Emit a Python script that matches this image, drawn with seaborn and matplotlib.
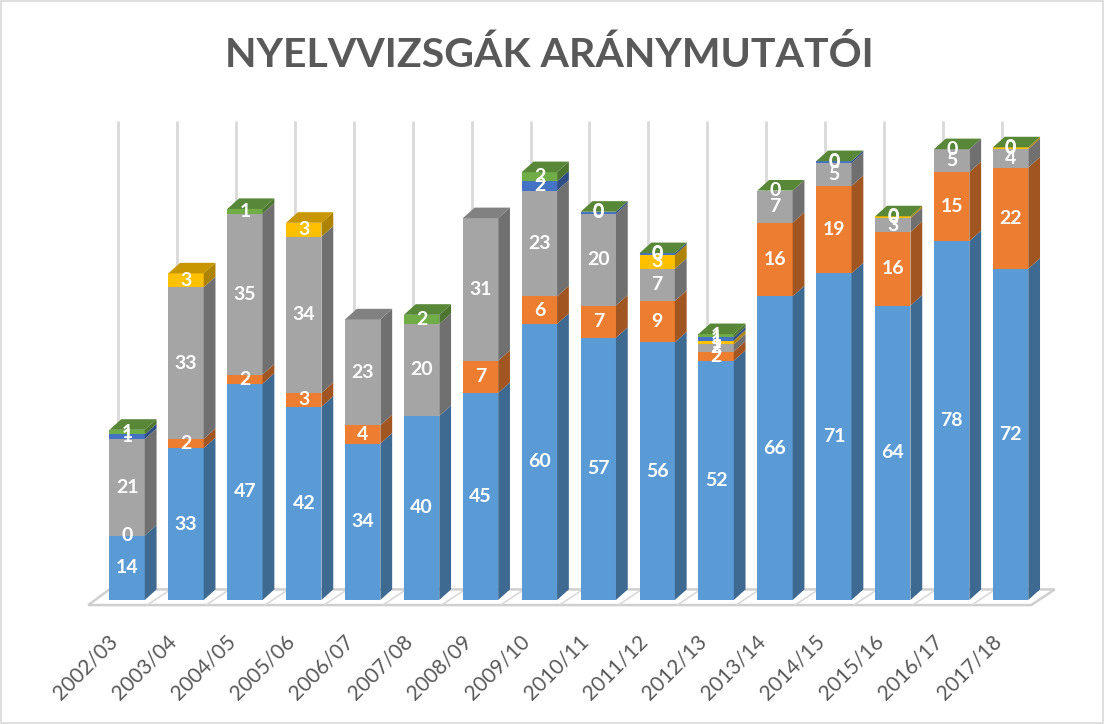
import numpy as np
import matplotlib
matplotlib.use('Agg')
import matplotlib.pyplot as plt
from matplotlib.patches import Polygon, Rectangle
from matplotlib.colors import to_rgb
from matplotlib.transforms import ScaledTranslation
import seaborn as sns

nan = np.nan

years = ['2002/03', '2003/04', '2004/05', '2005/06', '2006/07', '2007/08',
         '2008/09', '2009/10', '2010/11', '2011/12', '2012/13', '2013/14',
         '2014/15', '2015/16', '2016/17', '2017/18']

# stacked series, bottom to top
blue = [14, 33, 47, 42, 34, 40, 45, 60, 57, 56, 52, 66, 71, 64, 78, 72]
orange = [0, 2, 2, 3, 4, nan, 7, 6, 7, 9, 2, 16, 19, 16, 15, 22]
gray = [21, 33, 35, 34, 23, 20, 31, 23, 20, 7, 1.6, 7, 5, 3, 5, 4]
yellow = [nan, 3, nan, 3, nan, nan, nan, nan, nan, 3, 0.8, nan, nan, 0.4, nan, 0.4]
dark_blue = [1, nan, nan, nan, nan, nan, nan, 2, 0.4, 0.4, 0.7, nan, 0.4, nan, nan, nan]
green = [1, nan, 1, nan, nan, 2, nan, 2, 0, 0, 0.7, 0, 0, 0, 0, 0]

colors = ['#5B9BD5', '#ED7D31', '#A5A5A5', '#FFC000', '#4472C4', '#70AD47']

sns.set_theme(style='white')
plt.rcParams['font.family'] = ['Lato', 'DejaVu Sans']

fig = plt.figure(figsize=(11.05, 7.24), dpi=100)
ax = fig.add_axes([0.0724, 0.1395, 0.8848, 0.7307])

values = np.array([blue, orange, gray, yellow, dark_blue, green], dtype=float)
filled = np.nan_to_num(values)
cum = filled.cumsum(axis=0)
bottoms = cum - filled

# front faces: cumulative totals drawn from the top series down
for k in range(len(colors) - 1, -1, -1):
    sns.barplot(x=years, y=cum[k], color=colors[k], width=0.6, saturation=1,
                ax=ax, zorder=3, linewidth=0)

# depth of the fake 3d boxes, in data units
dx, dy = 0.2, 2.3


def shade(c, f):
    r, g, b = to_rgb(c)
    return (r * f, g * f, b * f)


bars = ax.containers[0].patches
for i, p in enumerate(bars):
    xl = p.get_x()
    xr = xl + p.get_width()
    present = [k for k in range(len(colors)) if not np.isnan(values[k, i])]
    for k in present:
        b, t = bottoms[k, i], cum[k, i]
        if t > b:
            ax.add_patch(Polygon([(xr, b), (xr + dx, b + dy), (xr + dx, t + dy), (xr, t)],
                                 closed=True, facecolor=shade(colors[k], 0.68),
                                 edgecolor='none', zorder=3))
    k_top = present[-1]
    T = cum[k_top, i]
    ax.add_patch(Polygon([(xl, T), (xr, T), (xr + dx, T + dy), (xl + dx, T + dy)],
                         closed=True, facecolor=shade(colors[k_top], 0.78),
                         edgecolor='none', zorder=3))
    # data labels
    for k in present:
        v = values[k, i]
        ax.text(xl + p.get_width() / 2, bottoms[k, i] + v / 2, f'{v:.0f}',
                ha='center', va='center', color='white', fontsize=14,
                fontweight='bold', zorder=6)

# back-wall gridlines
n = len(years)
for i in range(n):
    ax.plot([i - 0.15, i - 0.15], [2.2, 104], color='#d9d9d9', lw=2, zorder=1)

# floor
ax.add_patch(Polygon([(-0.66, -1.1), (15.35, -1.1), (15.75, 2.3), (-0.3, 2.3)],
                     closed=True, facecolor='white', edgecolor='#cfcfcf',
                     lw=1.8, zorder=2))
for i in range(n - 1):
    ax.plot([i + 0.5 - 0.16, i + 0.5 + 0.24], [-1.1, 2.3], color='#d9d9d9',
            lw=1.2, zorder=2)

ax.set_xlim(-0.8, 15.8)
ax.set_ylim(-5, 110)
ax.set_yticks([])
ax.set_xticks(range(n))
ax.set_xticklabels(years, rotation=45, ha='right', va='center',
                   rotation_mode='anchor', color='#595959', fontsize=15)
ax.tick_params(axis='x', length=0, pad=11)
for lab in ax.get_xticklabels():
    lab.set_transform(lab.get_transform() + ScaledTranslation(-9 / 72, 0, fig.dpi_scale_trans))
ax.set_xlabel('')
ax.set_ylabel('')
sns.despine(ax=ax, left=True, bottom=True)

fig.text(0.497, 0.924, 'NYELVVIZSGÁK ARÁNYMUTATÓI', ha='center', va='center',
         fontsize=29.5, fontweight='bold', color='#595959')

fig.patches.append(Rectangle((0.001, 0.001), 0.997, 0.997, transform=fig.transFigure,
                             fill=False, edgecolor='#d9d9d9', lw=1.2))

fig.savefig('out.png', dpi=100)
